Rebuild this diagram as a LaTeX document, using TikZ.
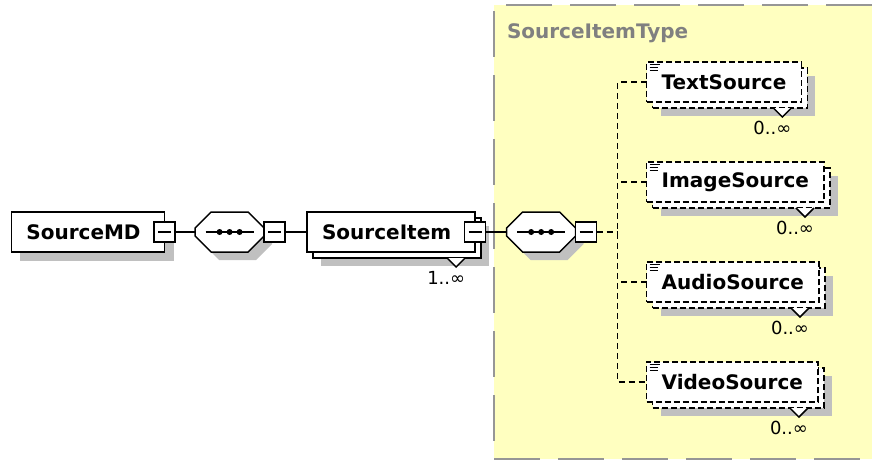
\documentclass[tikz,border=0pt]{standalone}
\usepackage{fontspec}
\setmainfont{DejaVu Sans}
\usepackage{tikz}
\usetikzlibrary{positioning,shapes.misc,shadows}

\definecolor{typebg}{RGB}{255,255,192}
\definecolor{typeframe}{RGB}{150,150,150}
\definecolor{typename}{RGB}{128,128,128}
\definecolor{shadowgray}{RGB}{192,192,192}

\newcommand{\namefont}{\fontsize{20}{24}\selectfont\bfseries}
\newcommand{\cardfont}{\fontsize{18}{22}\selectfont}

\begin{document}
\begin{tikzpicture}[line width=1.5pt, every node/.style={outer sep=0pt},
    comp/.style={rectangle, draw, fill=white, minimum height=40pt, inner xsep=15pt, inner ysep=0pt, font=\namefont},
    single/.style={comp, general shadow={fill=shadowgray, shadow xshift=9pt, shadow yshift=-9pt}},
    multi/.style={comp, general shadow={fill=shadowgray, shadow xshift=14pt, shadow yshift=-14pt},
        general shadow={draw, fill=white, shadow xshift=6pt, shadow yshift=-6pt}},
    elem/.style={comp, dash pattern=on 6pt off 3pt,
        general shadow={fill=shadowgray, shadow xshift=14pt, shadow yshift=-14pt},
        general shadow={draw, fill=white, dash pattern=on 6pt off 3pt, shadow xshift=6pt, shadow yshift=-6pt},
        path picture={
            \draw [solid, line width=1pt] ([shift={(3pt,-2pt)}]path picture bounding box.north west) -- ++(10pt,0pt);
            \draw [solid, line width=1pt] ([shift={(3pt,-5pt)}]path picture bounding box.north west) -- ++(8pt,0pt);
            \draw [solid, line width=1pt] ([shift={(3pt,-8pt)}]path picture bounding box.north west) -- ++(8pt,0pt);
        }},
    minus/.style={rectangle, draw, fill=white, minimum width=21pt, minimum height=20pt, inner sep=0pt,
        path picture={\draw ([xshift=4pt]path picture bounding box.west) -- ([xshift=-4pt]path picture bounding box.east);}},
    seq/.style={chamfered rectangle, chamfered rectangle xsep=8pt, chamfered rectangle ysep=8pt,
        draw, fill=white, inner xsep=26.5pt, inner ysep=12pt,
        general shadow={fill=shadowgray, shadow xshift=8pt, shadow yshift=-8pt},
        path picture={
            \draw ([xshift=-24pt]path picture bounding box.center) -- ([xshift=24pt]path picture bounding box.center);
            \foreach \d in {-10,0,10}
                \fill [black] ([xshift=\d pt]path picture bounding box.center) circle (3pt);
        }},
    card/.style={font=\cardfont, inner sep=0pt, anchor=north east},
    typetitle/.style={font=\namefont, text=typename, inner sep=0pt, anchor=west},
    link/.style={draw},
    optlink/.style={draw, dash pattern=on 6pt off 4pt},
    notch/.style={draw, fill=white, solid}]

    \useasboundingbox (0pt,0pt) rectangle (872pt,-461pt);

    \fill [typebg] (494pt,-5pt) rectangle (872pt,-459pt);
    \draw [typeframe, dash pattern=on 46pt off 18pt] (872pt,-5pt) -- (494pt,-5pt) -- (494pt,-459pt) -- (872pt,-459pt);
    \node [typetitle] (ttl) at (507pt,-33pt) {SourceItemType};

    \node [single] (md) at (88pt,-232pt) {SourceMD\hspace*{9pt}};
    \node [minus] (mdm) at (md.east) {};
    \node [seq, right=20pt of mdm] (seqA) {};
    \node [minus, right=0pt of seqA] (seqAm) {};
    \node [multi, right=22pt of seqAm] (item) {SourceItem\hspace*{9pt}};
    \node [minus] (itemm) at (item.east) {};
    \node [seq, right=21pt of itemm] (seqB) {};
    \node [minus, right=0pt of seqB] (seqBm) {};
    \coordinate [right=21pt of seqBm] (fork);

    \node [elem, right=29pt of fork, yshift=150pt] (txt) {TextSource};
    \node [elem, right=29pt of fork, yshift=50pt] (img) {ImageSource};
    \node [elem, right=29pt of fork, yshift=-50pt] (aud) {AudioSource};
    \node [elem, right=29pt of fork, yshift=-150pt] (vid) {VideoSource};

    \draw [notch] ([shift={(-28pt,-6pt)}]item.south east) -- ++(9pt,-9pt) -- ++(9pt,9pt);
    \draw [notch] ([shift={(-28pt,-6pt)}]txt.south east) -- ++(9pt,-9pt) -- ++(9pt,9pt);
    \draw [notch] ([shift={(-28pt,-6pt)}]img.south east) -- ++(9pt,-9pt) -- ++(9pt,9pt);
    \draw [notch] ([shift={(-28pt,-6pt)}]aud.south east) -- ++(9pt,-9pt) -- ++(9pt,9pt);
    \draw [notch] ([shift={(-28pt,-6pt)}]vid.south east) -- ++(9pt,-9pt) -- ++(9pt,9pt);

    \node [card] (itemc) at ([shift={(-10pt,-19.5pt)}]item.south east) {1..∞};
    \node [card] (txtc) at ([shift={(-10pt,-19.5pt)}]txt.south east) {0..∞};
    \node [card] (imgc) at ([shift={(-10pt,-19.5pt)}]img.south east) {0..∞};
    \node [card] (audc) at ([shift={(-10pt,-19.5pt)}]aud.south east) {0..∞};
    \node [card] (vidc) at ([shift={(-10pt,-19.5pt)}]vid.south east) {0..∞};

    \draw [link] (mdm) -- (seqA);
    \draw [link] (seqAm) -- (item);
    \draw [link] (itemm) -- (seqB);
    \draw [optlink] (seqBm) -- (fork);
    \draw [optlink] (txt) -| (fork) |- (vid);
    \draw [optlink] (img.west) -- (img.west -| fork);
    \draw [optlink] (aud.west) -- (aud.west -| fork);
\end{tikzpicture}
\end{document}
